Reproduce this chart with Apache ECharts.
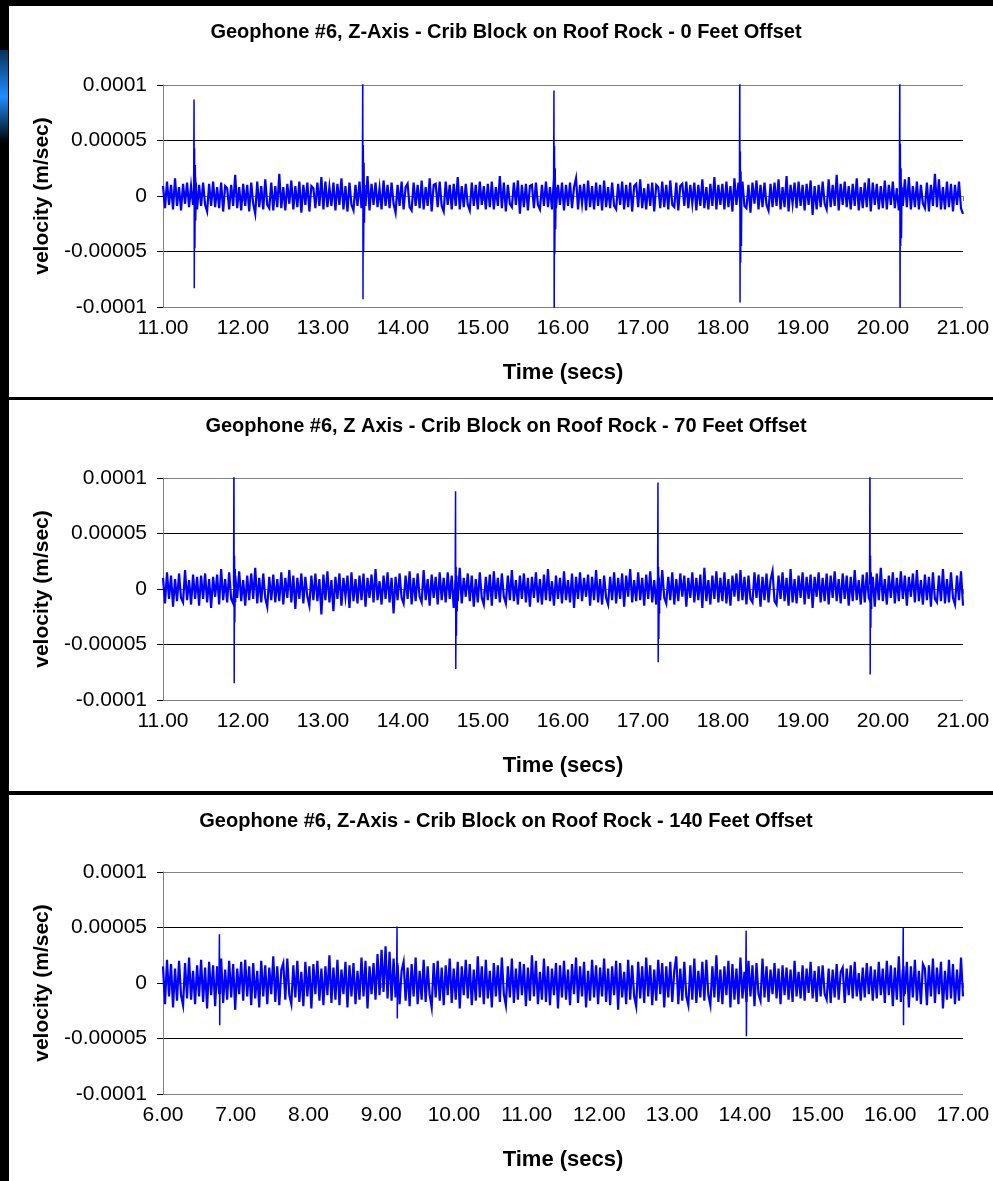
<!DOCTYPE html>
<html>
<head>
<meta charset="utf-8">
<script src="https://cdn.jsdelivr.net/npm/echarts@6/dist/echarts.min.js"></script>
<style>
  html, body { margin: 0; padding: 0; background: #000; }
  #chart { width: 993px; height: 1181px; }
</style>
</head>
<body>
<div id="chart"></div>
<script>
// velocities are in micro m/sec (1e-6 m/sec)

var titles = [
  'Geophone #6, Z-Axis - Crib Block on Roof Rock - 0 Feet Offset',
  'Geophone #6, Z Axis - Crib Block on Roof Rock - 70 Feet Offset',
  'Geophone #6, Z-Axis - Crib Block on Roof Rock - 140 Feet Offset'
];
var timeRanges = [[11, 21], [11, 21], [6, 17]];

var yTicks = [-100, -50, 0, 50, 100];
var yTickLabels = ['-0.0001', '-0.00005', '0', '0.00005', '0.0001'];

// background noise, evenly spaced over each time range
var noise1 = [
  9,-11,13,-8,10,-12,16,-9,8,-13,11,-7,12,-10,9,-8,17,-12,10,-9,
  12,-8,-14,11,-9,13,-10,8,-11,12,-14,9,7,-12,10,-9,19,-11,8,-13,
  11,-9,10,-14,12,-7,-16,13,-10,9,-12,15,-8,-11,12,-13,9,-10,20,-11,
  8,-13,11,-7,14,-12,9,-10,13,-15,10,-8,12,-14,9,7,-11,12,-9,17,
  -12,13,-10,8,-9,12,-13,11,-8,16,-12,9,-14,12,-8,-13,10,-9,13,-11,
  10,-9,18,-13,11,-8,12,-10,7,-12,14,-9,10,-11,12,-7,-15,10,-9,13,
  -12,8,11,-10,-13,12,-9,10,-11,14,-12,8,-9,16,-14,10,11,-10,13,-9,
  -14,13,-8,10,-12,11,-9,17,-12,9,-10,11,-8,-13,12,-9,10,-12,13,-8,
  9,-12,11,-10,13,-12,8,-9,18,-11,12,-14,10,-7,-10,12,-8,14,-16,10,
  -10,11,-13,9,10,-11,12,-8,-12,10,-9,13,-10,8,-12,15,-11,10,-8,12,
  -13,10,-9,12,-11,8,16,-12,10,-7,11,-13,14,-10,9,-12,12,-9,10,-13,
  14,-10,8,-11,12,-9,-12,11,-8,13,-12,10,-10,12,-14,9,11,-10,15,-11,
  7,-12,11,-9,12,-14,10,8,-11,13,-10,10,-12,14,-8,-10,12,-13,9,11,
  -9,13,-11,10,-7,12,-13,10,-9,15,-11,8,-12,11,-9,17,-12,10,-8,11,
  -12,13,-10,9,-14,16,-8,12,-10,13,-9,-11,10,-15,12,-7,14,-12,10,-10,
  12,-8,-13,11,-10,12,-9,15,-12,8,-10,18,-14,10,-7,12,-11,13,-9,10,
  -13,11,-8,14,-17,9,-12,10,-10,13,-7,-12,15,-10,10,-9,19,-13,11,-8,
  13,-10,9,-12,11,-9,16,-13,8,-11,12,-10,16,-14,12,-8,11,-12,9,-11,
  14,-12,10,-8,13,-11,7,-13,12,-9,15,-10,17,-12,9,-10,13,-12,10,-7,
  -11,12,-14,10,-9,20,-10,15,-12,8,-12,13,-10,11,-14,10,-8,13,-11,-16
];
var noise2 = [
  10,-13,15,-9,12,-16,9,-11,14,-8,-12,17,-10,8,-14,13,-9,11,-15,12,
  -9,14,-12,9,-17,11,-7,13,-14,18,-10,9,-12,15,-9,-13,12,-8,16,-11,
  8,-15,12,-10,14,-9,19,-13,10,-12,14,-8,-16,11,-10,13,-12,9,-11,15,
  -14,10,-8,17,-12,12,-18,10,-9,14,-13,11,-7,-15,12,-10,14,-11,9,-23,
  13,-10,16,-12,8,-20,11,-9,14,-15,10,-7,12,-17,15,-11,9,-13,12,-10,
  14,-16,10,-8,13,-12,18,-10,7,-14,12,-9,15,-12,10,-22,11,-10,14,-8,
  -13,12,-9,16,-14,10,-11,14,-7,-12,17,-10,9,-15,13,-8,11,-14,15,-10,
  10,-12,15,-9,12,-17,8,-11,19,-13,10,-7,14,-11,12,-16,9,-12,15,-8,
  -14,11,-10,13,-15,16,-9,10,-12,14,-7,-13,12,-10,17,-11,8,-14,12,-9,
  14,-12,10,-16,11,-8,15,-12,9,-14,13,-10,18,-11,7,-15,12,-9,10,-13,
  16,-10,8,-12,14,-17,11,-9,15,-11,10,-7,13,-15,11,-10,17,-12,9,-14,
  12,-8,-14,11,-10,15,-13,10,-9,14,-16,12,-7,18,-12,8,-11,15,-10,10,
  -15,13,-9,16,-12,8,-14,12,-10,17,-8,-13,11,-10,15,-14,9,-11,14,-7,
  12,-16,10,-8,15,-12,10,-10,13,-17,19,-11,8,-14,12,-9,16,-12,10,-11,
  15,-13,9,-15,12,-7,14,-11,17,-10,11,-14,12,-9,-12,15,-8,13,-16,11,
  -10,14,-12,8,16,-11,-14,12,-9,15,-11,10,-15,18,-12,9,-13,12,-8,15,
  -14,11,-9,13,-17,11,-7,15,-12,10,-11,14,-14,12,-8,16,-11,9,-13,14,
  -9,12,-15,11,-11,17,-10,8,-14,13,-12,15,-8,-12,11,-16,14,-10,19,-11,
  9,-14,12,-8,15,-13,10,-11,16,-9,12,-15,11,-7,14,-12,17,-11,8,-14,
  13,-10,11,-16,15,-9,-12,12,-11,18,-13,9,-12,15,-8,-14,12,-10,16,-15
];
var noise3 = [
  15,-19,21,-12,17,-22,13,-16,20,-11,-20,18,-14,23,-15,11,-19,16,-12,21,
  -17,14,-23,19,-11,16,-21,15,-10,22,-18,12,-15,20,-13,17,-24,13,-10,19,
  -16,21,-12,15,-20,18,-14,11,-22,20,-12,16,-19,14,-10,24,-17,15,-20,12,
  18,-15,22,-11,-19,16,-13,20,-17,10,-21,19,-12,15,-23,17,-10,20,-16,13,
  -20,15,-11,25,-18,14,-15,21,-20,12,-10,19,-22,16,-12,18,-19,11,-15,23,
  -12,20,-23,15,-10,18,-15,26,-11,30,-8,33,-14,28,-16,22,-13,16,-19,11,
  19,-16,14,-21,17,-12,23,-19,11,-15,21,-17,15,-11,-22,18,-13,20,-16,14,
  -20,16,-11,22,-18,13,-15,19,-23,15,-11,21,-14,17,-20,12,-16,24,-13,15,
  -19,21,-14,11,-22,18,-12,16,-17,23,-10,-20,15,-13,22,-18,13,-15,19,-11,
  17,-21,14,-16,25,-12,20,-19,10,-15,22,-17,15,-20,13,-11,18,-23,16,-13,
  20,-15,12,-20,17,-10,23,-18,15,-12,19,-22,11,-16,21,-13,16,-19,14,-12,
  22,-17,13,-20,15,-11,20,-24,18,-13,10,-19,21,-15,16,-12,-21,19,-14,15,
  -18,23,-12,16,-20,12,-16,21,-10,18,-22,15,-13,19,-17,11,24,-19,13,-16,
  19,-12,-20,16,-15,22,-18,11,-13,19,-16,21,-11,-20,15,-13,25,-17,12,-19,
  15,-11,20,-22,17,-15,13,-19,23,-14,10,-17,20,-12,16,-21,18,-10,-16,22,
  -13,15,-17,12,-10,18,-14,13,-19,16,-11,14,-15,12,-17,20,-12,10,-14,16,
  -16,13,-9,19,-14,11,-17,15,-12,16,-10,-15,13,-18,12,-13,17,-15,10,14,
  -18,13,-11,16,-14,19,-12,9,-16,14,-13,18,-10,15,-16,12,-14,19,-11,13,
  -18,20,-11,16,-21,14,-15,24,-17,12,-10,19,-22,15,-13,21,-16,11,-19,17,
  13,-20,16,-12,22,-18,14,-10,19,-23,11,-15,21,-14,17,-19,12,-16,23,-12
];

// hammer impacts: [time (secs), velocity]
var spikes1 = [
  [[11.383,4],[11.388,87],[11.391,-83],[11.395,43],[11.399,-47],[11.404,28],[11.409,-22],[11.415,12],[11.42,-5]],
  [[13.492,3],[13.497,130],[13.5,-93],[13.504,46],[13.508,-50],[13.513,30],[13.518,-24],[13.524,10]],
  [[15.882,2],[15.887,95],[15.89,-130],[15.894,45],[15.898,-52],[15.903,25],[15.908,-30],[15.914,8]],
  [[18.205,3],[18.21,130],[18.213,-96],[18.217,40],[18.221,-60],[18.225,22],[18.23,-45],[18.236,10]],
  [[20.205,4],[20.21,130],[20.213,-130],[20.217,47],[20.221,-45],[20.226,25],[20.231,-38],[20.237,8]]
];
var spikes2 = [
  [[11.882,3],[11.887,130],[11.89,-85],[11.894,30],[11.898,-30],[11.903,18],[11.908,-12]],
  [[14.652,2],[14.657,88],[14.66,-72],[14.664,20],[14.668,-42],[14.673,12],[14.678,-20],[14.684,6]],
  [[17.182,3],[17.187,96],[17.19,-66],[17.194,20],[17.198,-45],[17.203,10],[17.208,-22]],
  [[19.832,4],[19.837,130],[19.84,-77],[19.844,30],[19.848,-35],[19.853,15],[19.858,-18]]
];
var spikes3 = [
  [[6.77,3],[6.776,44],[6.78,-38],[6.785,14],[6.79,-10],[6.795,5]],
  [[9.212,5],[9.218,51],[9.222,-32],[9.227,18],[9.232,-12]],
  [[14.012,2],[14.018,47],[14.022,-48],[14.027,12],[14.032,-8]],
  [[16.172,4],[16.178,50],[16.182,-38],[16.187,15],[16.192,-12]]
];

var noises = [noise1, noise2, noise3];
var spikes = [spikes1, spikes2, spikes3];

var font = '"Liberation Sans", Arial, sans-serif';
var gridTops = [85, 478, 872];
var titleTops = [17, 411, 806];

var grids = [], xAxes = [], yAxes = [], series = [], titleList = [];

for (var p = 0; p < 3; p++) {
  var t0 = timeRanges[p][0], t1 = timeRanges[p][1];
  var n = noises[p];
  var dt = (t1 - t0) / (n.length - 1);
  var pts = n.map(function (v, i) { return [t0 + i * dt, v]; });

  titleList.push({
    text: titles[p],
    left: 501, top: titleTops[p], textAlign: 'center',
    textStyle: { fontFamily: font, fontSize: 20, fontWeight: 'bold', color: '#000' }
  });
  grids.push({ left: 163, right: 30, top: gridTops[p], height: 222 });
  xAxes.push({
    type: 'value', gridIndex: p, min: t0, max: t1, interval: 1,
    name: 'Time (secs)', nameLocation: 'middle', nameGap: 55,
    nameTextStyle: { fontFamily: font, fontSize: 22, fontWeight: 'bold', color: '#000' },
    axisLine: { lineStyle: { color: '#808080', width: 1 } },
    axisTick: { length: 5, lineStyle: { color: '#808080' } },
    axisLabel: { fontFamily: font, fontSize: 21, color: '#000', margin: 11,
      formatter: function (v) { return v.toFixed(2); } },
    splitLine: { show: false }
  });
  yAxes.push({
    type: 'value', gridIndex: p, min: -100, max: 100, interval: 50,
    name: 'velocity (m/sec)', nameLocation: 'middle', nameGap: 110,
    nameTextStyle: { fontFamily: font, fontSize: 21, fontWeight: 'bold', color: '#000' },
    axisLine: { show: true, lineStyle: { color: '#808080', width: 1 } },
    axisTick: { show: true, length: 6, lineStyle: { color: '#000' } },
    axisLabel: { fontFamily: font, fontSize: 21, color: '#000', margin: 16,
      formatter: function (v) { return yTickLabels[yTicks.indexOf(Math.round(v))]; } },
    splitLine: { show: true, lineStyle: { color: ['#808080', '#000', '#000', '#000', '#808080'], width: 1 } }
  });
  series.push({
    type: 'line', xAxisIndex: p, yAxisIndex: p, data: pts,
    showSymbol: false, symbol: 'none', silent: true,
    lineStyle: { color: '#0000ff', width: 2.2, join: 'miter' }
  });
  spikes[p].forEach(function (s) {
    series.push({
      type: 'line', xAxisIndex: p, yAxisIndex: p, data: s,
      showSymbol: false, symbol: 'none', silent: true,
      lineStyle: { color: '#0000ff', width: 1.5 }
    });
  });
}

var chart = echarts.init(document.getElementById('chart'));
chart.setOption({
  animation: false,
  backgroundColor: '#000',
  title: titleList,
  grid: grids,
  xAxis: xAxes,
  yAxis: yAxes,
  series: series,
  graphic: [
    { type: 'rect', z: -10, shape: { x: 9, y: 6, width: 984, height: 391 }, style: { fill: '#fff' } },
    { type: 'rect', z: -10, shape: { x: 9, y: 400, width: 984, height: 391 }, style: { fill: '#fff' } },
    { type: 'rect', z: -10, shape: { x: 9, y: 795, width: 984, height: 386 }, style: { fill: '#fff' } },
    { type: 'rect', z: -10, shape: { x: 0, y: 50, width: 8, height: 93 },
      style: { fill: new echarts.graphic.LinearGradient(0, 0, 0, 1, [
        { offset: 0, color: '#06305a' },
        { offset: 0.5, color: '#1e90ff' },
        { offset: 1, color: '#000' }
      ]) } }
  ]
});
</script>
</body>
</html>
